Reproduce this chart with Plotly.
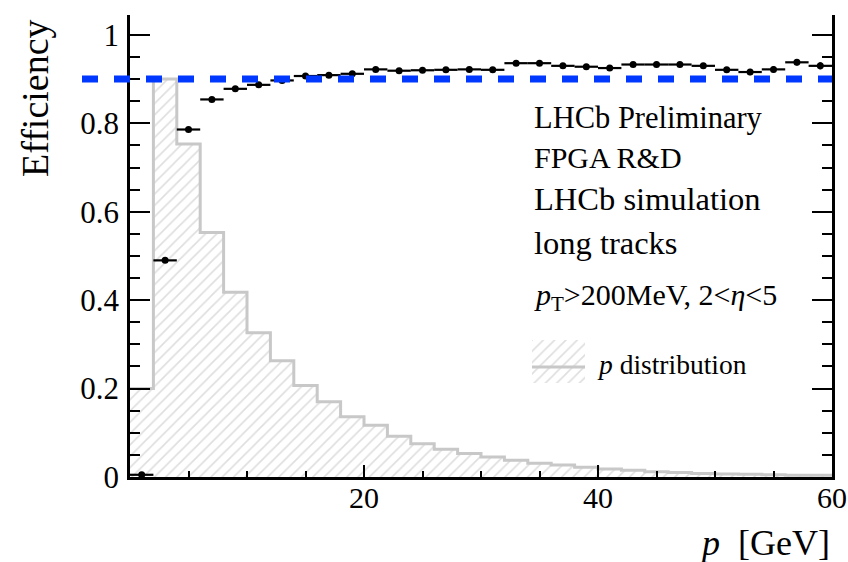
import plotly.graph_objects as go

# ---- data ----
bin_edges = [float(e) for e in range(0, 62, 2)]           # p bins [GeV]
bin_centers = [1 + 2 * i for i in range(30)]
bin_halfwidth = [1.0] * 30

efficiency = [0.005, 0.490, 0.786, 0.854, 0.878, 0.887, 0.897, 0.907, 0.909, 0.912,
              0.922, 0.919, 0.920, 0.921, 0.922, 0.921, 0.936, 0.936, 0.930, 0.928,
              0.925, 0.933, 0.933, 0.933, 0.930, 0.921, 0.916, 0.922, 0.938, 0.930]
eff_err = [0.003, 0.004, 0.003, 0.003, 0.003, 0.003, 0.003, 0.003, 0.003, 0.003,
           0.003, 0.003, 0.004, 0.004, 0.004, 0.004, 0.004, 0.005, 0.005, 0.005,
           0.005, 0.005, 0.006, 0.006, 0.006, 0.006, 0.007, 0.007, 0.007, 0.008]

p_dist = [0.200, 0.900, 0.753, 0.553, 0.418, 0.326, 0.263, 0.207, 0.170, 0.136,
          0.117, 0.092, 0.075, 0.063, 0.053, 0.045, 0.038, 0.031, 0.027, 0.022,
          0.018, 0.015, 0.012, 0.010, 0.008, 0.007, 0.006, 0.005, 0.004, 0.004]

target_eff = 0.9
y_ticks = [0, 0.2, 0.4, 0.6, 0.8, 1]
x_ticks = [20, 40, 60]

SERIF = "Liberation Serif, Times New Roman, serif"
HATCH = "#bdbdbd"
OUTLINE = "#c8c8c8"

fig = go.Figure()

hatch = dict(shape="/", fgcolor=HATCH, bgcolor="rgba(255,255,255,0)", size=8, solidity=0.2)

# histogram (hatched) of p distribution
fig.add_trace(go.Bar(
    x=bin_centers, y=p_dist, width=[2 * w for w in bin_halfwidth],
    marker=dict(color="rgba(255,255,255,0)", line=dict(width=0), pattern=hatch),
    showlegend=False, hoverinfo="skip"))
# outline of histogram
fig.add_trace(go.Scatter(
    x=bin_edges, y=p_dist + [p_dist[-1]], mode="lines", line_shape="hv",
    line=dict(color=OUTLINE, width=3), showlegend=False, hoverinfo="skip"))

# efficiency points
fig.add_trace(go.Scatter(
    x=bin_centers, y=efficiency, mode="markers",
    marker=dict(color="black", size=7),
    error_x=dict(type="data", array=bin_halfwidth, color="black", thickness=2.2, width=0),
    error_y=dict(type="data", array=eff_err, color="black", thickness=2.2, width=0),
    showlegend=False))

# legend key box (hatched) on a small helper axis
fig.add_trace(go.Bar(
    x=[0], y=[1], width=[1], xaxis="x2", yaxis="y2",
    marker=dict(color="rgba(255,255,255,0)", line=dict(width=0), pattern=hatch),
    showlegend=False, hoverinfo="skip"))

L, R, T, B = 130, 16, 15, 85
W, H = 848, 562
pw, ph = W - L - R, H - T - B

def px(x):
    return (x - L) / pw

def py(y):
    return (H - B - y) / ph

fig.update_layout(
    width=W, height=H,
    margin=dict(l=L, r=R, t=T, b=B, autoexpand=False),
    paper_bgcolor="white", plot_bgcolor="white",
    showlegend=False, bargap=0,
    font=dict(family=SERIF, color="black"),
    xaxis=dict(range=[0, 60], tickvals=x_ticks, ticks="inside", ticklen=12, tickwidth=2,
               tickcolor="black", showline=True, linecolor="black", linewidth=2.5,
               showgrid=False, zeroline=False, mirror=False, automargin=False,
               tickfont=dict(family=SERIF, size=30), ticklabelstandoff=-8,
               minor=dict(dtick=5, ticks="inside", ticklen=6, tickwidth=2, tickcolor="black")),
    yaxis=dict(range=[0, 1.045], tickvals=y_ticks, ticks="inside", ticklen=20, tickwidth=2,
               tickcolor="black", showline=True, linecolor="black", linewidth=2.5,
               showgrid=False, zeroline=False, mirror="ticks", automargin=False,
               tickfont=dict(family=SERIF, size=31), ticklabelstandoff=2,
               minor=dict(dtick=0.05, ticks="inside", ticklen=10, tickwidth=2, tickcolor="black")),
    xaxis2=dict(domain=[px(532), px(585)], range=[-0.5, 0.5], anchor="y2",
                visible=False, fixedrange=True),
    yaxis2=dict(domain=[py(383), py(340)], range=[0, 1], anchor="x2",
                visible=False, fixedrange=True),
)

# dashed target line at 0.9
fig.add_shape(type="line", xref="paper", yref="y", x0=px(82), x1=1,
              y0=target_eff, y1=target_eff,
              line=dict(color="#0038ff", width=7, dash="16px,16px"), layer="above")
# legend key line
fig.add_shape(type="line", xref="paper", yref="paper", x0=px(532), x1=px(585),
              y0=py(367), y1=py(367), line=dict(color=OUTLINE, width=3))

def ann(text, x, y, size, xanchor="left", angle=0):
    fig.add_annotation(text=text, xref="paper", yref="paper", x=x, y=y,
                       xanchor=xanchor, yanchor="middle", showarrow=False,
                       textangle=angle, font=dict(family=SERIF, size=size, color="black"))

ann("LHCb Preliminary", px(532), py(118), 30.5)
ann("FPGA R&amp;D", px(532), py(157), 30)
ann("LHCb simulation", px(532), py(199), 32.5)
ann("long tracks", px(532), py(243), 32.5)
ann("<i>p</i><sub>T</sub>&gt;200MeV, 2&lt;<i>η</i>&lt;5", px(532), py(297), 30)
ann("<i>p</i> distribution", px(595), py(364), 27.5)
ann("Efficiency", px(35), py(98), 38, xanchor="center", angle=-90)
ann("<i>p</i>  [GeV]", 1, py(543), 36, xanchor="right")

fig.write_html("out.html")
